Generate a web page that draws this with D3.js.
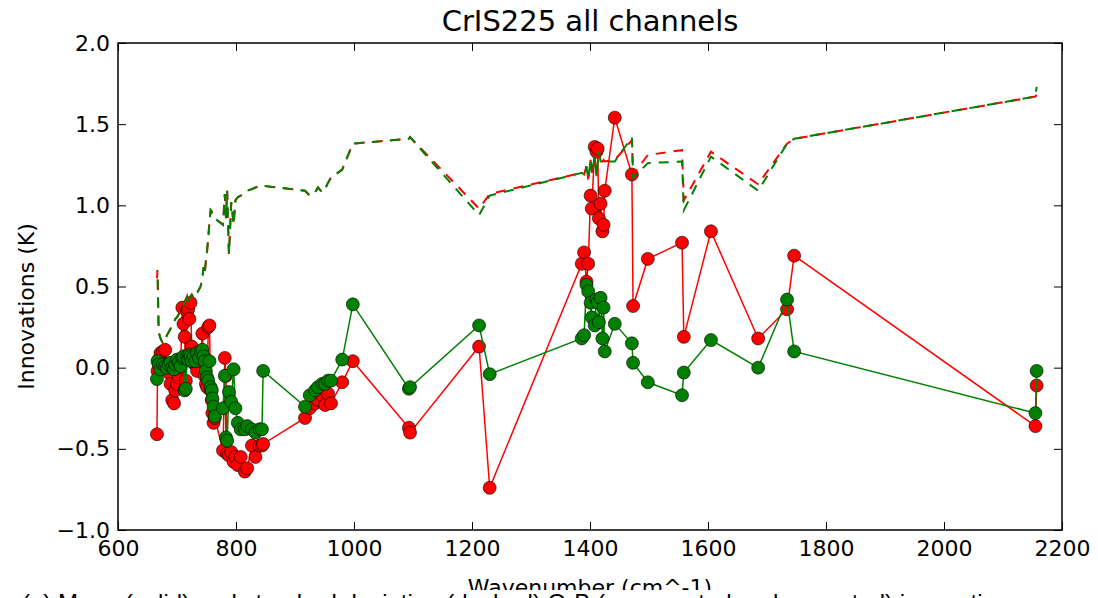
<!DOCTYPE html>
<html>
<head>
<meta charset="utf-8">
<script src="https://cdn.jsdelivr.net/npm/d3@7"></script>
<style>
  html, body { margin: 0; padding: 0; background: #fff; }
  svg { display: block; font-family: "DejaVu Sans", sans-serif; }
</style>
</head>
<body>
<svg id="chart" width="1098" height="598"></svg>
<script>
// ---------------- data ----------------
const wavenumbers = [666,667,669,672,676,680,683,686,689,692,695,697,700,703,706,709,711,713,715,717,719,721,723,725,728,731,734,737,740,743,745,747,749,751,753,755,757,759,760,762,764,778,781,783,785,788,792,796,799,803,808,815,819,827,833,840,844,846,917,925,934,939,946,951,956,961,980,998,1093,1095,1212,1230,1386,1390,1394,1397,1401,1403,1408,1411,1413,1415,1418,1421,1423,1425,1442,1471,1473,1498,1556,1559,1605,1685,1734,1746,2155,2157];

const meanRed = [-0.41,-0.02,0.05,0.09,0.10,0.11,0.02,-0.03,-0.10,-0.20,-0.22,-0.14,-0.10,-0.06,0.00,0.37,0.27,0.19,-0.08,0.35,0.36,0.30,0.40,0.13,0.03,0.02,-0.02,0.05,0.07,0.21,0.03,-0.05,-0.10,-0.12,0.25,0.26,-0.14,-0.20,-0.28,-0.34,-0.31,-0.51,0.06,-0.05,-0.53,-0.54,-0.52,-0.58,-0.55,-0.60,-0.55,-0.64,-0.62,-0.48,-0.55,-0.48,-0.48,-0.47,-0.31,-0.25,-0.22,-0.20,-0.17,-0.23,-0.16,-0.22,-0.09,0.04,-0.37,-0.40,0.13,-0.74,0.64,0.71,0.53,0.64,1.06,0.98,1.36,1.33,1.35,0.92,1.01,0.84,0.88,1.09,1.54,1.19,0.38,0.67,0.77,0.19,0.84,0.18,0.36,0.69,-0.36,-0.11];

const meanGreen = [-0.07,0.04,0.02,-0.01,0.02,0.01,0.00,0.02,0.03,0.00,-0.01,0.02,0.05,0.03,0.01,0.06,0.07,-0.14,-0.13,0.07,0.05,0.08,0.07,0.04,0.07,0.04,0.09,0.06,0.10,0.11,0.07,0.04,-0.02,-0.06,-0.08,0.04,-0.12,-0.14,-0.19,-0.24,-0.30,-0.25,-0.05,-0.43,-0.45,-0.15,-0.21,-0.01,-0.25,-0.34,-0.38,-0.38,-0.36,-0.38,-0.40,-0.38,-0.38,-0.02,-0.24,-0.17,-0.14,-0.12,-0.10,-0.10,-0.08,-0.08,0.05,0.39,-0.13,-0.12,0.26,-0.04,0.18,0.20,0.51,0.47,0.40,0.31,0.26,0.42,0.40,0.28,0.43,0.18,0.37,0.10,0.27,0.15,0.03,-0.09,-0.17,-0.03,0.17,0.00,0.42,0.10,-0.28,-0.02];

const stdRed = [0.55,0.60,0.22,0.18,0.15,0.17,0.20,0.22,0.24,0.26,0.28,0.30,0.31,0.33,0.34,0.36,0.38,0.40,0.42,0.44,0.40,0.42,0.44,0.45,0.43,0.45,0.46,0.48,0.50,0.55,0.62,0.58,0.66,0.72,0.80,0.90,0.97,0.96,0.95,0.94,0.92,0.88,1.07,0.92,1.09,0.70,1.02,0.88,1.03,1.05,1.06,1.08,1.09,1.10,1.11,1.12,1.12,1.12,1.09,1.06,1.08,1.11,1.08,1.10,1.14,1.17,1.22,1.38,1.41,1.42,0.98,1.07,1.20,1.19,1.24,1.16,1.28,1.20,1.30,1.18,1.26,1.33,1.27,1.27,1.28,1.27,1.28,1.40,1.19,1.31,1.34,1.03,1.33,1.13,1.38,1.41,1.67,1.68];

const stdGreen = [0.60,0.58,0.22,0.18,0.15,0.17,0.20,0.22,0.24,0.26,0.28,0.30,0.31,0.33,0.34,0.36,0.38,0.40,0.42,0.44,0.40,0.42,0.44,0.45,0.43,0.45,0.46,0.48,0.50,0.55,0.62,0.58,0.66,0.72,0.80,0.90,0.97,0.96,0.95,0.94,0.92,0.88,1.07,0.92,1.09,0.70,1.02,0.88,1.03,1.05,1.06,1.08,1.09,1.10,1.11,1.12,1.12,1.12,1.09,1.06,1.08,1.11,1.08,1.10,1.14,1.17,1.22,1.38,1.41,1.42,0.94,1.06,1.20,1.19,1.24,1.16,1.28,1.20,1.30,1.18,1.26,1.33,1.27,1.27,1.27,1.27,1.27,1.42,1.17,1.26,1.27,0.97,1.30,1.09,1.38,1.41,1.67,1.73];

const xTicks = [600,800,1000,1200,1400,1600,1800,2000,2200];
const yTicks = [-1.0,-0.5,0.0,0.5,1.0,1.5,2.0];

const titleText = "CrIS225 all channels";
const xLabelText = "Wavenumber (cm^-1)";
const yLabelText = "Innovations (K)";
const captionText = "(a) Mean (solid) and standard deviation (dashed) O-B (uncorrected and corrected) innovations";

// ---------------- layout ----------------
const svg = d3.select("#chart");
const W = 1098, H = 598;
const m = {left: 118, right: 36, top: 43, bottom: 68};
const pw = W - m.left - m.right, ph = H - m.top - m.bottom;

const x = d3.scaleLinear().domain([600, 2200]).range([m.left, m.left + pw]);
const y = d3.scaleLinear().domain([-1.0, 2.0]).range([m.top + ph, m.top]);

const fmtY = v => d3.format(".1f")(v).replace("-", "\u2212");

svg.append("clipPath").attr("id", "clip")
  .append("rect").attr("x", m.left).attr("y", m.top).attr("width", pw).attr("height", ph);

const plot = svg.append("g").attr("clip-path", "url(#clip)");

function series(vals) { return wavenumbers.map((w, i) => [w, vals[i]]); }
const line = d3.line().x(d => x(d[0])).y(d => y(d[1]));

function drawMean(vals, color) {
  const pts = series(vals);
  plot.append("path").datum(pts).attr("d", line)
    .attr("fill", "none").attr("stroke", color).attr("stroke-width", 1.5);
  plot.append("g").selectAll("circle").data(pts).join("circle")
    .attr("cx", d => x(d[0])).attr("cy", d => y(d[1])).attr("r", 6.5)
    .attr("fill", color).attr("stroke", "#000").attr("stroke-width", 0.6);
}
function drawStd(vals, color, offset) {
  plot.append("path").datum(series(vals)).attr("d", line)
    .attr("fill", "none").attr("stroke", color).attr("stroke-width", 2)
    .attr("stroke-dasharray", "10,8").attr("stroke-dashoffset", offset);
}

drawMean(meanRed, "#ff0000");
drawStd(stdRed, "#ff0000", 0);
drawMean(meanGreen, "#008000");
drawStd(stdGreen, "#008000", 9);

// ---------------- axes ----------------
const tickLen = 8;
const axB = d3.axisBottom(x).tickValues(xTicks).tickSizeInner(-tickLen).tickSizeOuter(0).tickPadding(10).tickFormat(d3.format("d"));
const axT = d3.axisTop(x).tickValues(xTicks).tickSizeInner(-tickLen).tickSizeOuter(0).tickFormat("");
const axL = d3.axisLeft(y).tickValues(yTicks).tickSizeInner(-tickLen).tickSizeOuter(0).tickPadding(8).tickFormat(fmtY);
const axR = d3.axisRight(y).tickValues(yTicks).tickSizeInner(-tickLen).tickSizeOuter(0).tickFormat("");

function styleAxis(g) {
  g.select(".domain").remove();
  g.selectAll(".tick line").attr("stroke", "#000").attr("stroke-width", 1);
  g.selectAll(".tick text").attr("fill", "#000").attr("font-size", 22).attr("font-family", "DejaVu Sans");
}
svg.append("g").attr("transform", `translate(0,${m.top + ph})`).call(axB).call(styleAxis);
svg.append("g").attr("transform", `translate(0,${m.top})`).call(axT).call(styleAxis);
svg.append("g").attr("transform", `translate(${m.left},0)`).call(axL).call(styleAxis);
svg.append("g").attr("transform", `translate(${m.left + pw},0)`).call(axR).call(styleAxis);

svg.append("rect").attr("x", m.left).attr("y", m.top).attr("width", pw).attr("height", ph)
  .attr("fill", "none").attr("stroke", "#000").attr("stroke-width", 1.5);

// ---------------- text ----------------
svg.append("text").attr("x", m.left + pw / 2).attr("y", 31).attr("text-anchor", "middle")
  .attr("font-size", 29).attr("fill", "#000").text(titleText);

svg.append("text").attr("transform", `translate(34,${m.top + ph / 2 + 20}) rotate(-90)`)
  .attr("text-anchor", "middle").attr("font-size", 22).attr("fill", "#000").text(yLabelText);

svg.append("text").attr("x", m.left + pw / 2).attr("y", 595).attr("text-anchor", "middle")
  .attr("font-size", 22).attr("fill", "#000").text(xLabelText);

svg.append("rect").attr("x", 0).attr("y", 590).attr("width", W).attr("height", 8).attr("fill", "#fff");
svg.append("text").attr("x", 22).attr("y", 611).attr("font-size", 24)
  .attr("font-family", "Liberation Sans, Arial, sans-serif").attr("fill", "#000").text(captionText);
</script>
</body>
</html>
